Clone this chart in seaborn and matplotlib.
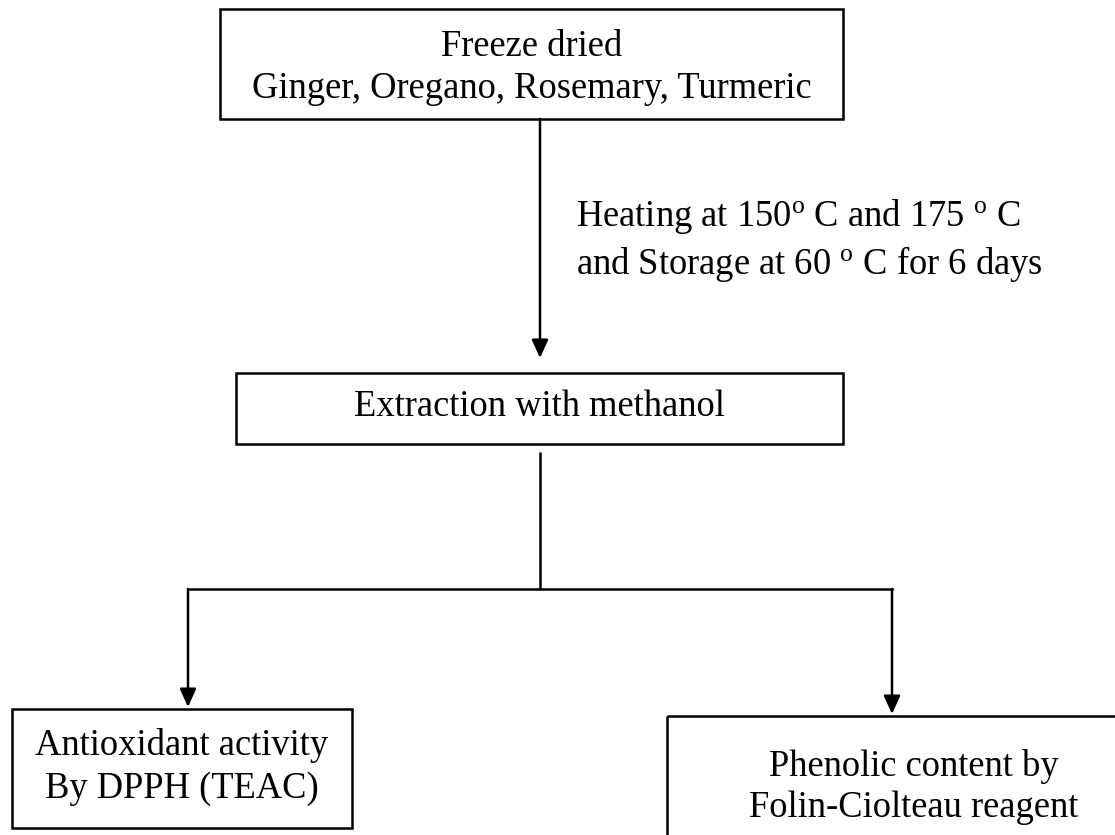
import matplotlib
matplotlib.use("Agg")
import matplotlib.pyplot as plt
from matplotlib.patches import Rectangle
import seaborn as sns

# ---- content ----
top_label = ["Freeze dried", "Ginger, Oregano, Rosemary, Turmeric"]
step_label = [r"Heating at 150$^{\rm o}$ C and 175 $^{\rm o}$ C",
              r"and Storage at 60 $^{\rm o}$ C for 6 days"]
middle_label = ["Extraction with methanol"]
left_label = ["Antioxidant activity", "By DPPH (TEAC)"]
right_label = ["Phenolic content by", "Folin-Ciolteau reagent"]

sns.set_theme(style="white")
plt.rcParams["font.family"] = ["Liberation Serif", "DejaVu Serif"]
plt.rcParams["mathtext.fontset"] = "custom"
plt.rcParams["mathtext.rm"] = "Liberation Serif"
plt.rcParams["mathtext.it"] = "Liberation Serif:italic"

W, H = 1115, 835
fig = plt.figure(figsize=(W / 100, H / 100), dpi=100)
ax = fig.add_axes([0, 0, 1, 1])
ax.set_xlim(0, W)
ax.set_ylim(H, 0)
ax.axis("off")

FS = 26.3
LW = 1.8


def box(x0, y0, x1, y1):
    ax.add_patch(Rectangle((x0, y0), x1 - x0, y1 - y0, fill=False,
                           edgecolor="black", linewidth=LW))


def lines(xc, baselines, labels, ha="center", x=None):
    for b, t in zip(baselines, labels):
        ax.text(xc if x is None else x, b, t, ha=ha, va="baseline",
                fontsize=FS, color="black")


def arrow(x0, y0, x1, y1):
    ax.annotate("", xy=(x1, y1), xytext=(x0, y0),
                arrowprops=dict(arrowstyle="-|>,head_length=1.1,head_width=0.5",
                                mutation_scale=10, color="black", lw=LW,
                                shrinkA=0, shrinkB=0))


# top box
box(220, 9, 843, 119)
lines(531.5, [56, 98], top_label)
arrow(540, 119, 540, 358)
lines(None, [226, 274], step_label, ha="left", x=576)

# middle box
box(236, 373, 843, 444)
lines(539.5, [416], middle_label)
ax.plot([540, 540], [452, 589], color="black", lw=LW, solid_capstyle="butt")

# branch
ax.plot([188, 892], [589, 589], color="black", lw=LW, solid_capstyle="projecting")
arrow(188, 589, 188, 707)
arrow(892, 589, 892, 714)

# left box
box(12, 709, 352, 828)
lines(182, [755, 798], left_label)

# right box (runs off the figure edge)
box(667, 716, 1130, 850)
lines(914, [776, 817], right_label)

fig.savefig("out.png", dpi=100, facecolor="white")
